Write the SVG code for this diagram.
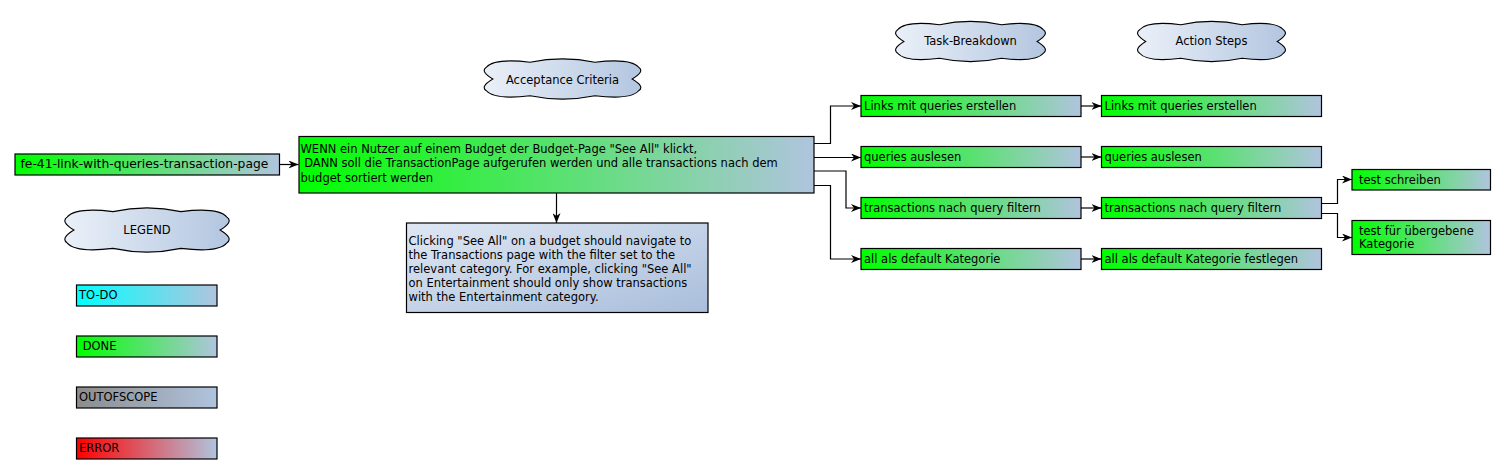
<svg xmlns="http://www.w3.org/2000/svg" width="1510" height="474" viewBox="0 0 1510 474">
<style>
text{font-family:"DejaVu Sans","Liberation Sans",sans-serif;font-size:11.5px;fill:#000}
.c{text-anchor:middle}
.box{stroke:#000;stroke-width:1.2}
.done{fill:url(#gDone)}
.cloud{fill:url(#gCloud);stroke:#000;stroke-width:1.1}
.conn{fill:none;stroke:#000;stroke-width:1.2}
</style>
<defs>
<linearGradient id="gDone" x1="0" y1="0" x2="1" y2="0"><stop offset="0" stop-color="#00ff00"/><stop offset="1" stop-color="#b0c4de"/></linearGradient>
<linearGradient id="gTodo" x1="0" y1="0" x2="1" y2="0"><stop offset="0" stop-color="#00ffff"/><stop offset="1" stop-color="#b0c4de"/></linearGradient>
<linearGradient id="gOos" x1="0" y1="0" x2="1" y2="0"><stop offset="0" stop-color="#8c8c8c"/><stop offset="1" stop-color="#b0c4de"/></linearGradient>
<linearGradient id="gErr" x1="0" y1="0" x2="1" y2="0"><stop offset="0" stop-color="#ff0000"/><stop offset="1" stop-color="#b0c4de"/></linearGradient>
<linearGradient id="gDesc" x1="0" y1="0" x2="1" y2="1"><stop offset="0" stop-color="#dfe7f3"/><stop offset="1" stop-color="#a9bedb"/></linearGradient>
<linearGradient id="gCloud" x1="0" y1="0" x2="1" y2="0"><stop offset="0" stop-color="#eaf0f8"/><stop offset="1" stop-color="#b3c6e0"/></linearGradient>
<path id="cloudShape" vector-effect="non-scaling-stroke" d="M3,22 Q8,0 30,10 Q50,-6 70,10 Q92,0 97,22 Q101,32 93,50 Q101,68 97,78 Q92,100 70,90 Q50,106 30,90 Q8,100 3,78 Q-1,68 7,50 Q-1,32 3,22 Z"/>
<marker id="arr" viewBox="0 0 10 8" markerWidth="10" markerHeight="8" refX="10" refY="4" orient="auto" markerUnits="userSpaceOnUse"><path d="M0,0 L10,4 L0,8 L3,4 Z" fill="#000"/></marker>
</defs>

<g id="connectors">
<path class="conn" marker-end="url(#arr)" d="M279.5,164.5 H298.5"/>
<path class="conn" marker-end="url(#arr)" d="M814,143.5 H830.5 V106 H861"/>
<path class="conn" marker-end="url(#arr)" d="M814,157.5 H861"/>
<path class="conn" marker-end="url(#arr)" d="M814,171 H846 V208 H861"/>
<path class="conn" marker-end="url(#arr)" d="M814,185.5 H830.5 V259 H861"/>
<path class="conn" marker-end="url(#arr)" d="M556.5,193 V223"/>
<path class="conn" marker-end="url(#arr)" d="M1081,106 H1101.5"/>
<path class="conn" marker-end="url(#arr)" d="M1081,157 H1101.5"/>
<path class="conn" marker-end="url(#arr)" d="M1081,208 H1101.5"/>
<path class="conn" marker-end="url(#arr)" d="M1081,259 H1101.5"/>
<path class="conn" marker-end="url(#arr)" d="M1321.5,203.5 H1337.5 V179.5 H1352"/>
<path class="conn" marker-end="url(#arr)" d="M1321.5,213.5 H1337.5 V237.5 H1352"/>
</g>

<g id="cloud-acceptance">
<g transform="translate(481.5,58) scale(1.62,0.42)"><use href="#cloudShape" class="cloud"/></g>
<text class="c" x="562.5" y="84">Acceptance Criteria</text>
</g>
<g id="cloud-task">
<g transform="translate(893,20.5) scale(1.55,0.42)"><use href="#cloudShape" class="cloud"/></g>
<text class="c" x="970.5" y="44.5">Task-Breakdown</text>
</g>
<g id="cloud-action">
<g transform="translate(1135,20.5) scale(1.53,0.42)"><use href="#cloudShape" class="cloud"/></g>
<text class="c" x="1211.5" y="44.5">Action Steps</text>
</g>
<g id="cloud-legend">
<g transform="translate(62,207) scale(1.7,0.46)"><use href="#cloudShape" class="cloud"/></g>
<text class="c" x="147" y="234">LEGEND</text>
</g>

<g id="root">
<rect class="box done" x="15" y="154" width="264.5" height="21"/>
<text x="20.5" y="168" style="font-size:12.3px">fe-41-link-with-queries-transaction-page</text>
</g>

<g id="acceptance">
<rect class="box done" x="299" y="136.5" width="515" height="56.5"/>
<text x="300.5" y="152.5">WENN ein Nutzer auf einem Budget der Budget-Page "See All" klickt,</text>
<text x="300.5" y="167" xml:space="preserve"> DANN soll die TransactionPage aufgerufen werden und alle transactions nach dem</text>
<text x="300.5" y="181.5">budget sortiert werden</text>
</g>

<g id="description">
<rect class="box" fill="url(#gDesc)" x="406.5" y="223" width="301.5" height="89.5"/>
<text x="408.5" y="245">Clicking "See All" on a budget should navigate to</text>
<text x="408.5" y="259">the Transactions page with the filter set to the</text>
<text x="408.5" y="273">relevant category. For example, clicking "See All"</text>
<text x="408.5" y="287">on Entertainment should only show transactions</text>
<text x="408.5" y="301">with the Entertainment category.</text>
</g>

<g id="task-links"><rect class="box done" x="861" y="95.5" width="220" height="21"/><text x="864" y="110">Links mit queries erstellen</text></g>
<g id="task-queries"><rect class="box done" x="861" y="146.5" width="220" height="21"/><text x="864" y="161">queries auslesen</text></g>
<g id="task-filter"><rect class="box done" x="861" y="197.5" width="220" height="21"/><text x="864" y="212">transactions nach query filtern</text></g>
<g id="task-default"><rect class="box done" x="861" y="248.5" width="220" height="21"/><text x="864" y="263">all als default Kategorie</text></g>

<g id="step-links"><rect class="box done" x="1101.5" y="95.5" width="220" height="21"/><text x="1104.5" y="110">Links mit queries erstellen</text></g>
<g id="step-queries"><rect class="box done" x="1101.5" y="146.5" width="220" height="21"/><text x="1104.5" y="161">queries auslesen</text></g>
<g id="step-filter"><rect class="box done" x="1101.5" y="197.5" width="220" height="21"/><text x="1104.5" y="212">transactions nach query filtern</text></g>
<g id="step-default"><rect class="box done" x="1101.5" y="248.5" width="220" height="21"/><text x="1104.5" y="263">all als default Kategorie festlegen</text></g>

<g id="test-write"><rect class="box done" x="1352" y="169.5" width="138.5" height="20.5"/><text x="1359" y="183.5">test schreiben</text></g>
<g id="test-category"><rect class="box done" x="1352" y="220.5" width="138.5" height="34"/><text x="1359" y="234.5">test für übergebene</text><text x="1359" y="248">Kategorie</text></g>

<g id="legend-todo"><rect class="box" fill="url(#gTodo)" x="76.5" y="285" width="140.5" height="21"/><text x="79" y="299">TO-DO</text></g>
<g id="legend-done"><rect class="box done" x="76.5" y="336" width="140.5" height="21"/><text x="79" y="350" xml:space="preserve"> DONE</text></g>
<g id="legend-oos"><rect class="box" fill="url(#gOos)" x="76.5" y="387" width="140.5" height="21"/><text x="79" y="401">OUTOFSCOPE</text></g>
<g id="legend-error"><rect class="box" fill="url(#gErr)" x="76.5" y="438" width="140.5" height="21"/><text x="79" y="452">ERROR</text></g>
</svg>
